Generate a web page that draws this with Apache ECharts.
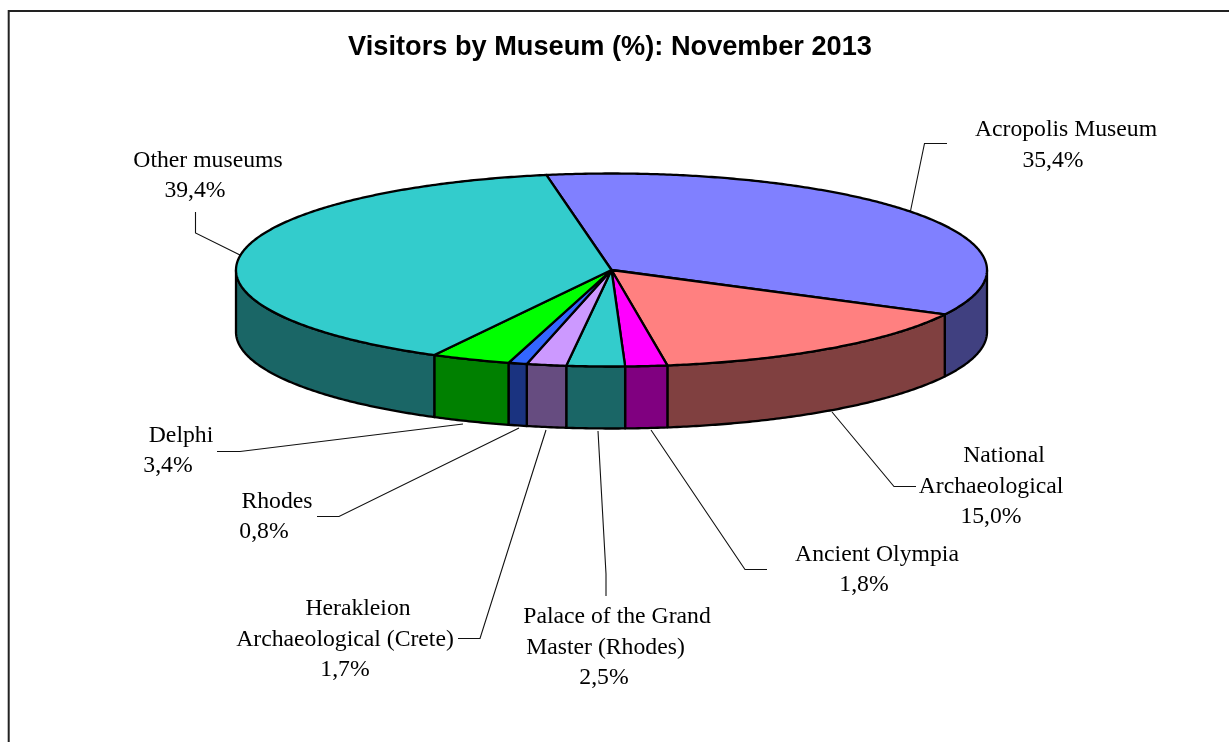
<!DOCTYPE html>
<html>
<head>
<meta charset="utf-8">
<style>html,body{margin:0;padding:0;background:#fff;overflow:hidden}#c{width:1229px;height:742px}</style>
<script src="https://cdn.jsdelivr.net/npm/echarts@6/dist/echarts.min.js"></script>
</head>
<body>
<div id="c"></div>
<script>
const titleText = 'Visitors by Museum (%): November 2013';
const museums = ['Acropolis Museum','National Archaeological','Ancient Olympia','Palace of the Grand Master (Rhodes)','Herakleion Archaeological (Crete)','Rhodes','Delphi','Other museums'];
const labelNames = [['Acropolis Museum'],['National','Archaeological'],['Ancient Olympia'],['Palace of the Grand','Master (Rhodes)'],['Herakleion','Archaeological (Crete)'],['Rhodes'],['Delphi'],['Other museums']];
const shares = [35.4,15.0,1.8,2.5,1.7,0.8,3.4,39.4];
const topColors = ['#8080FF','#FF8080','#FF00FF','#33CCCC','#CC99FF','#3366FF','#00FF00','#33CCCC'];
const sideColors = ['#404080','#804040','#800080','#1A6666','#664C80','#1A3380','#008000','#1A6666'];

// layout only
const pie = {cx:611.5, cy:270, rx:375.5, ry:96.5, depth:62, start:-10};
const labelLines = [
  [[1066,130],[1053,161]],
  [[1004,456],[991,487],[991,517]],
  [[877,555],[864,585]],
  [[617,617],[605.5,648],[604,678]],
  [[358,609],[345,640],[345,670]],
  [[277,502],[264,532]],
  [[181,436],[168,466]],
  [[208,161],[195,191]]
];
const leaders = [
  [[910.5,211],[924.5,143.5],[947,143.5]],
  [[832,412],[894,486.5],[916,486.5]],
  [[651,430],[745,569.5],[767,569.5]],
  [[598,431],[606,574],[606,596]],
  [[546,430],[480,638.5],[458,638.5]],
  [[519,428],[339,516.5],[317,516.5]],
  [[463,424],[240,451.5],[217,451.5]],
  [[240,255],[195.5,233],[195.5,212]]
];

const rad = d => d*Math.PI/180;
const pt = (t,dy) => [pie.cx+pie.rx*Math.sin(rad(t)), pie.cy-pie.ry*Math.cos(rad(t))+(dy||0)];
function arc(a,b,dy){
  const n = Math.max(2,Math.ceil(Math.abs(b-a)*2)), out=[];
  for(let i=0;i<=n;i++) out.push(pt(a+(b-a)*i/n,dy));
  return out;
}
function renderItem(params, api){
  const i = params.dataIndex;
  let before = 0;
  for(let k=0;k<i;k++) before += shares[k];
  const a0 = pie.start + before*3.6;
  // shares are rounded to one decimal; the last slice closes the circle
  const a1 = i===shares.length-1 ? pie.start+360 : a0 + api.value(0)*3.6;
  const children = [];
  const edge = {stroke:'#000',lineWidth:2.3,lineJoin:'round'};
  children.push({type:'polyline',shape:{points:leaders[i]},style:{fill:null,stroke:'#111',lineWidth:1.1},z2:1});
  const s0 = Math.max(a0,90), s1 = Math.min(a1,270);
  if(s1>s0){
    children.push({type:'polygon',shape:{points:arc(s0,s1,0).concat(arc(s1,s0,pie.depth))},
      style:Object.assign({fill:sideColors[i]},edge),z2:2});
  }
  children.push({type:'polygon',shape:{points:[[pie.cx,pie.cy]].concat(arc(a0,a1,0))},
    style:Object.assign({fill:topColors[i]},edge),z2:3});
  const pct = api.value(0).toFixed(1).replace('.',',')+'%';
  const lines = labelNames[i].concat([pct]);
  lines.forEach((txt,k)=>{
    children.push({type:'text',x:labelLines[i][k][0],y:labelLines[i][k][1],
      style:{text:txt,fill:'#000',font:'23.7px "Liberation Serif"',align:'center',verticalAlign:'middle'},z2:4});
  });
  return {type:'group',children};
}
const chart = echarts.init(document.getElementById('c'),null,{renderer:'canvas',width:1229,height:742});
chart.setOption({
  animation:false,
  backgroundColor:'#fff',
  title:{text:titleText,left:610,textAlign:'center',top:34,padding:0,
    textStyle:{fontFamily:'Liberation Sans',fontWeight:'bold',fontSize:27.2,color:'#000'}},
  tooltip:{show:false},
  graphic:[{type:'rect',z:-1,shape:{x:8.7,y:11,width:1300,height:800},style:{fill:null,stroke:'#222',lineWidth:2},silent:true}],
  series:[{type:'custom',coordinateSystem:'none',renderItem,
    data:shares.map((v,i)=>({name:museums[i],value:[v]}))}]
});
</script>
</body>
</html>
